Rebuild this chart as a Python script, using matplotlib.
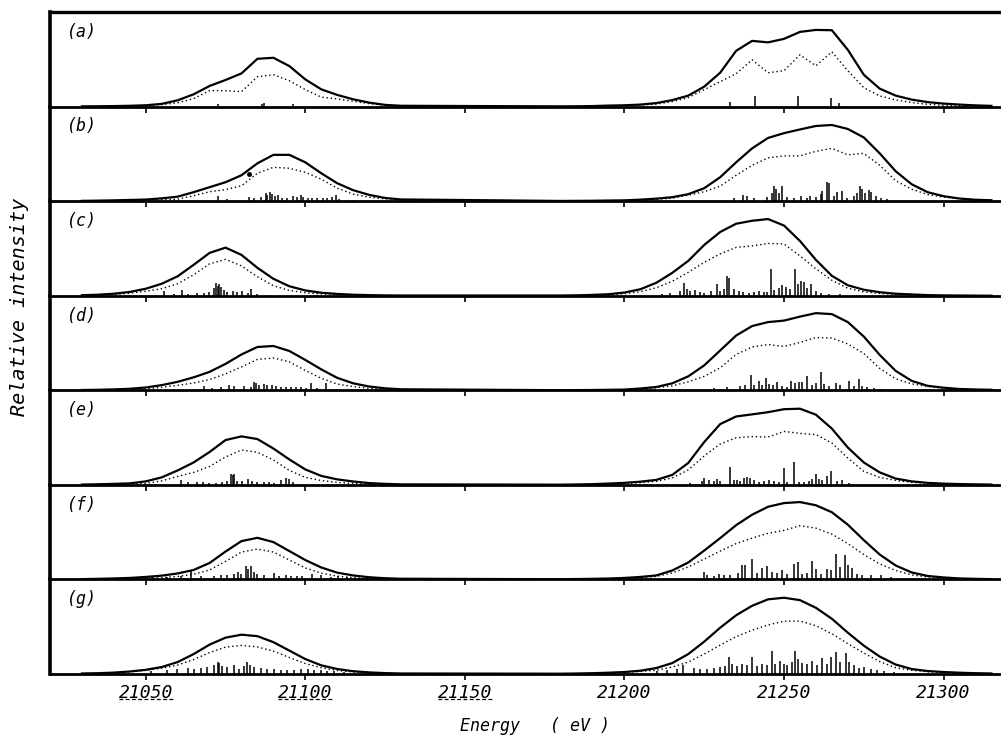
import matplotlib
matplotlib.use('Agg')
import matplotlib.pyplot as plt

plt.rcParams['font.family'] = ['DejaVu Sans Mono']
plt.rcParams['font.style'] = 'oblique'

# energy grid (eV) of the read-off envelope points: low band + high band
E_GRID = list(range(21030, 21131, 5)) + list(range(21180, 21316, 5))

# ---- panel (a)
SOLID_A = [0.2, 0.3, 0.5, 0.8, 1.3, 2.7, 6.3, 12.3, 20.7, 26.7, 33.3, 48, 49, 40.7, 27.3,
           17.3, 11.7, 7.3, 4, 1.7, 0.8,
           0.2, 0.3, 0.5, 1, 1.3, 2, 3.5, 6.5, 11, 20, 34, 56, 66, 64.5, 68, 75, 77, 76.7,
           57, 32, 18, 11, 7, 4.5, 3, 2, 1.2, 0.7]
DOTTED_A = [0.1, 0.2, 0.3, 0.5, 0.9, 2, 3.8, 8, 16, 16, 15, 30, 32, 26, 17,
            9.5, 7.7, 5.4, 3, 1.3, 0.5,
            0.1, 0.2, 0.4, 0.6, 1, 1.5, 2.5, 5, 9, 17, 25, 33, 47, 34, 36, 52, 41, 55,
            36, 19, 10.7, 6.7, 4, 2.3, 1.3, 0.8, 0.5, 0.3]
STICK_E_A = [21072.7, 21086.5, 21087.0, 21096.3, 21233.2, 21241.0, 21254.4, 21264.6,
             21267.2, 21269.3]
STICK_H_A = [3, 2.5, 4, 3, 4.3, 10.3, 10.3, 8.3, 3.7, 1]

# ---- panel (b)
SOLID_B = [0.3, 0.5, 0.8, 1.2, 1.6, 2.8, 4.5, 9, 14, 19, 26, 38, 46.5, 46.5, 39,
           28, 18, 11, 6.3, 3.2, 1.7,
           0.2, 0.3, 0.4, 0.6, 0.8, 1.5, 2.5, 4, 7, 13, 24, 39, 53, 63.5, 68.3, 72, 75.5, 76.5,
           72.5, 64, 48, 30, 17, 9, 5, 2.6, 1.4, 0.9]
DOTTED_B = [0.1, 0.2, 0.4, 0.7, 1, 1.4, 2, 5.5, 9.5, 11.5, 15.5, 28, 34, 33, 29,
            22, 13, 7, 4, 2.3, 1.3,
            0.1, 0.2, 0.3, 0.5, 0.6, 1, 1.8, 3, 6, 9.5, 15, 26, 36, 43.5, 45.5, 45.5, 50, 53,
            46.5, 48, 36, 20.5, 12, 6.7, 4, 2.5, 1.3, 0.8]
STICK_E_B = [21072.7, 21075.6, 21082.4, 21084.0, 21086.0, 21087.6, 21088.1, 21089.0,
             21089.7, 21090.4, 21091.3, 21092.8, 21094.4, 21096.0, 21097.5, 21098.6,
             21099.4, 21100.7, 21102.2, 21103.8, 21105.4, 21106.9, 21108.5, 21109.6,
             21110.6, 21115.3,
             21231.6, 21234.2, 21237.2, 21238.4, 21240.5, 21244.7, 21246.3, 21246.8,
             21247.6, 21248.4, 21249.4, 21251.0, 21253.1, 21255.2, 21257.3, 21258.3,
             21259.9, 21261.5, 21262.0, 21263.6, 21264.1, 21265.7, 21266.7, 21268.3,
             21269.8, 21271.9, 21273.0, 21273.8, 21274.6, 21275.3, 21276.6, 21277.4,
             21278.7, 21280.3, 21282.4]
STICK_H_B = [5, 2, 4, 3, 4, 8, 6, 9, 7, 5, 6, 3, 3, 5, 4, 6, 4, 3, 3, 3, 3, 3, 4, 6, 2, 1,
             1.5, 3, 6, 5, 3, 4, 8, 15, 12, 8, 15.7, 4, 3, 5, 3, 5, 4, 7, 10, 19, 18, 5, 9,
             10, 3, 5, 8, 15, 12, 8, 11, 9, 5, 3, 2]
STRAY_B = (21082.3, 27)

# ---- panel (c)
SOLID_C = [0.5, 1, 2, 3.8, 7, 12, 19.5, 31, 43, 48.3, 41, 28, 17, 9.5, 5.3,
           3, 1.8, 1, 0.6, 0.3, 0.2,
           0.2, 0.4, 0.8, 1.5, 3.2, 6.5, 13, 23, 35, 51, 64, 72.3, 75.3, 77, 70.5, 55, 36, 20,
           10.5, 6, 3.5, 2, 1.3, 0.6, 0.3, 0.2, 0.1, 0]
DOTTED_C = [0.3, 0.7, 1.3, 2.5, 4.5, 7, 12, 21, 32, 36.5, 30, 19, 10, 5.3, 3,
            1.8, 1.1, 0.7, 0.4, 0.2, 0.1,
            0.1, 0.2, 0.4, 0.8, 2, 4, 8, 14.5, 23.5, 33.5, 42, 48.5, 50, 52.5, 52, 40, 27, 15.5,
            7.5, 3.8, 2.3, 1.3, 0.8, 0.4, 0.2, 0.1, 0, 0]
STICK_E_C = [21055.7, 21058.9, 21061.5, 21063.1, 21066.2, 21068.3, 21069.9, 21071.4,
             21072.0, 21072.5, 21073.0, 21073.5, 21074.6, 21075.6, 21077.2, 21078.7,
             21080.3, 21081.9, 21083.1, 21085.0, 21088.1,
             21211.7, 21214.3, 21217.5, 21218.7, 21219.6, 21220.6, 21222.2, 21223.8,
             21225.0, 21227.1, 21229.0, 21230.1, 21231.1, 21232.1, 21232.8, 21234.2,
             21235.8, 21237.3, 21238.9, 21240.5, 21242.1, 21243.7, 21244.7, 21246.0,
             21246.8, 21248.4, 21249.4, 21250.5, 21252.0, 21253.6, 21254.5, 21255.2,
             21256.2, 21257.3, 21258.6, 21259.9, 21261.5, 21264.1, 21267.7]
STICK_H_C = [4.3, 2, 6, 2, 3, 3, 4, 8, 12.7, 10, 12, 9, 6, 4, 5, 4, 5, 3, 7, 2, 1,
             2, 3, 5, 12.7, 7, 5, 6, 4, 3, 5, 11.7, 5, 7, 20, 18, 7, 5, 4, 3, 4, 5, 4, 4,
             27, 6, 8, 11, 9, 7, 27, 12, 15, 14, 8, 12, 5, 3, 2, 2]

# ---- panel (d)
SOLID_D = [0.3, 0.5, 0.9, 1.5, 2.8, 5.2, 8.5, 13, 18.5, 26.5, 36, 43.5, 44.5, 39.5, 30.5,
           21, 12.5, 7, 3.8, 2, 1,
           0.1, 0.2, 0.3, 0.5, 0.7, 1.8, 3.3, 7, 14, 25, 40, 55, 64.5, 68.5, 70, 74, 77.5, 76.5,
           68.5, 54, 35.5, 19.5, 9.5, 4.5, 2.6, 1.3, 0.8, 0.5]
DOTTED_D = [0.1, 0.3, 0.5, 0.8, 1.6, 3, 5, 7.3, 10.8, 16.5, 23.5, 31, 32.5, 28.5, 20,
            12, 6.2, 3.8, 2, 1.2, 0.6,
            0.1, 0.1, 0.2, 0.4, 0.6, 1.3, 2.5, 4.5, 8.5, 14, 22.5, 36, 43.5, 46, 44, 48, 53, 52.5,
            46.5, 37, 22, 11.5, 6.5, 3.8, 2.2, 1.3, 0.8, 0.4]
STICK_E_D = [21068.3, 21070.9, 21073.5, 21076.1, 21077.7, 21080.8, 21082.9, 21084.0,
             21084.5, 21085.5, 21087.1, 21088.1, 21089.7, 21090.8, 21092.3, 21093.9,
             21095.5, 21097.0, 21098.6, 21100.2, 21101.9, 21103.8, 21106.6,
             21228.0, 21232.1, 21236.3, 21237.9, 21239.7, 21240.5, 21242.1, 21243.1,
             21244.4, 21245.2, 21246.6, 21247.9, 21249.4, 21251.0, 21252.3, 21253.6,
             21254.7, 21255.7, 21257.1, 21258.8, 21259.9, 21261.5, 21262.5, 21264.1,
             21266.2, 21267.7, 21270.4, 21271.9, 21273.5, 21274.6, 21276.1, 21278.2,
             21280.3]
STICK_H_D = [4, 2, 3, 5, 4, 4, 3, 8.3, 7, 5, 6, 5, 5, 4, 3, 3, 3, 3, 3, 2, 7.3, 2, 7,
             2, 3, 4, 5, 15, 5, 9, 5, 12.3, 6, 5, 8, 4, 3, 9, 7, 8, 8, 14.3, 5, 7, 18.3, 6,
             4, 7, 5, 9, 4, 11.7, 4, 3, 2, 1]

# ---- panel (e)
SOLID_E = [0.3, 0.6, 1, 1.5, 3.5, 7.5, 14.5, 22.5, 33, 45, 48.7, 46, 36.5, 25.5, 15.5,
           9, 5.5, 3.4, 1.8, 1, 0.5,
           0.2, 0.4, 0.7, 1.3, 2, 3.2, 5, 10, 22, 43, 61, 68.7, 70.8, 73, 76, 76.5, 70.5, 56.5,
           37.5, 22.5, 12.5, 6.3, 3.5, 2, 1.2, 0.8, 0.5, 0.3]
DOTTED_E = [0.1, 0.3, 0.5, 1, 1.5, 4, 8.5, 12.5, 18.5, 28, 35, 32.7, 25, 14.5, 7.5,
            4.3, 2.4, 1.5, 0.9, 0.5, 0.2,
            0.1, 0.2, 0.4, 0.8, 1.3, 2.2, 3.5, 7, 15, 29, 41, 47.3, 48.5, 48, 53.7, 51.7, 50.5, 42,
            27, 13.5, 7.5, 4.5, 2.5, 1.7, 1.2, 0.7, 0.4, 0.2]
STICK_E_E = [21061.0, 21063.1, 21066.2, 21067.8, 21069.9, 21072.0, 21074.0, 21075.6,
             21076.6, 21077.2, 21077.7, 21078.7, 21080.3, 21081.9, 21083.4, 21085.0,
             21087.1, 21088.7, 21090.2, 21092.3, 21093.9, 21095.0, 21096.0,
             21220.6, 21224.3, 21225.0, 21226.4, 21228.0, 21229.0, 21230.1, 21233.2,
             21234.2, 21235.3, 21236.3, 21237.4, 21238.4, 21239.5, 21240.5, 21242.1,
             21243.7, 21245.2, 21246.8, 21248.4, 21250.0, 21251.0, 21253.1, 21254.7,
             21256.2, 21257.8, 21258.8, 21259.9, 21260.9, 21262.0, 21263.6, 21264.6,
             21266.7, 21268.3, 21270.4]
STICK_H_E = [5.3, 3, 3, 3, 2, 2, 3, 4, 11, 10, 11, 4, 4, 6, 4, 3, 3, 3, 2, 5, 7, 6, 3,
             2, 4, 7, 5, 4, 6, 4, 17.7, 5, 5, 4, 7, 8, 7, 5, 3, 4, 5, 4, 3, 16.7, 3, 22.7,
             3, 3, 4, 6, 11, 6, 5, 9, 13.7, 4, 5, 2]

# ---- panel (f)
SOLID_F = [0.3, 0.6, 1, 1.5, 2.5, 3.8, 6, 9.5, 16.5, 28, 38.5, 41.8, 37.5, 28.5, 19.5,
           12, 6.8, 4, 2.2, 1.2, 0.7,
           0.2, 0.4, 0.6, 0.9, 1.5, 2.5, 4, 9, 17, 29, 41.5, 54.5, 65, 73, 76.7, 77.7, 74.5, 67.5,
           55, 39.5, 25, 14, 7, 3.5, 2, 1, 0.6, 0.3]
DOTTED_F = [0.1, 0.2, 0.4, 0.6, 1, 1.8, 3, 5.2, 9.5, 18, 27.5, 30.5, 27.5, 19.5, 11.5,
            6.3, 3.3, 1.8, 1, 0.5, 0.3,
            0.1, 0.2, 0.4, 0.7, 1.2, 2, 3, 6.5, 12.5, 20.5, 28.5, 36, 41.5, 46.3, 49.3, 54, 51.5,
            45.5, 36, 25, 15.5, 9, 4.5, 2.5, 1.5, 0.8, 0.5, 0.3]
STICK_E_F = [21052.1, 21056.8, 21061.0, 21064.1, 21067.2, 21071.4, 21073.5, 21075.6,
             21077.7, 21078.9, 21079.8, 21081.3, 21082.1, 21082.9, 21084.0, 21085.0,
             21087.1, 21090.2, 21091.8, 21093.9, 21095.5, 21097.5, 21099.1, 21102.2,
             21104.9, 21108.0, 21110.1, 21113.2,
             21224.8, 21225.9, 21228.0, 21229.5, 21231.1, 21233.2, 21235.5, 21236.9,
             21237.9, 21240.0, 21241.6, 21243.1, 21244.7, 21246.3, 21247.9, 21249.4,
             21251.0, 21253.1, 21254.5, 21255.7, 21257.3, 21258.8, 21259.9, 21261.5,
             21263.4, 21264.6, 21266.2, 21267.7, 21269.0, 21270.1, 21271.4, 21273.0,
             21274.6, 21277.2, 21280.3, 21283.5]
STICK_H_F = [2, 2, 3, 8.3, 3, 3, 4, 4, 5, 7, 5, 13.3, 10, 13, 7, 5, 4, 6, 3, 4, 3, 3, 3,
             5, 4, 2, 3, 2,
             7.7, 4, 3, 5, 4, 4, 6, 14.3, 14.3, 20.3, 6, 11, 13.3, 7, 6, 9, 5, 16, 17.7, 5,
             6, 18.3, 10, 5, 10, 9, 26, 12, 24.3, 14.3, 11, 5, 4, 4, 4, 2]

# ---- panel (g)
SOLID_G = [0.5, 0.8, 1.4, 2.5, 4.2, 7, 12, 20, 29.5, 36.5, 39.5, 38, 32, 23.5, 15,
           8.7, 5, 2.8, 1.6, 0.9, 0.5,
           0.3, 0.5, 0.8, 1.3, 2, 3.3, 6, 11, 20, 32.5, 46.5, 59, 68.5, 75, 76.6, 74.2, 66.5,
           55.5, 41.5, 28.5, 17.5, 9.5, 5, 3, 2, 1.3, 0.8, 0.5]
DOTTED_G = [0.4, 0.7, 1.2, 2.3, 3.7, 5.8, 9, 14.5, 21.5, 27, 28.7, 27.2, 23, 16.5, 10.5,
            6.3, 3.5, 2.1, 1.2, 0.7, 0.4,
            0.2, 0.3, 0.6, 1, 1.6, 2.5, 3.8, 7, 12, 20, 29, 37.5, 44, 49.3, 53, 53.2, 48.5,
            40.5, 30.5, 21, 12.5, 6.3, 3.7, 2.3, 1.5, 1, 0.6, 0.3]
STICK_E_G = [21051.6, 21056.8, 21059.9, 21063.1, 21065.2, 21067.2, 21069.3, 21071.4,
             21072.5, 21073.0, 21074.0, 21075.6, 21077.7, 21079.3, 21080.8, 21081.7,
             21082.7, 21084.0, 21086.0, 21088.1, 21090.2, 21092.3, 21094.4, 21096.5,
             21098.6, 21100.7, 21102.8, 21104.9, 21106.9, 21109.0, 21112.2,
             21210.2, 21213.3, 21216.4, 21218.5, 21221.7, 21223.8, 21225.9, 21228.0,
             21230.1, 21231.6, 21232.8, 21233.7, 21235.3, 21236.9, 21238.4, 21240.0,
             21241.6, 21243.1, 21244.7, 21246.3, 21247.3, 21248.9, 21249.9, 21251.0,
             21252.6, 21253.6, 21254.5, 21255.7, 21257.3, 21258.8, 21260.4, 21262.0,
             21263.6, 21264.6, 21266.2, 21267.7, 21269.3, 21270.4, 21271.9, 21273.5,
             21275.1, 21277.2, 21279.3, 21281.4, 21284.5]
STICK_H_G = [3, 4, 5, 6, 5, 6, 7.3, 9, 12.3, 11, 8, 7, 9, 5, 8, 11.7, 9, 7, 6, 5, 5, 4,
             4, 4, 5, 5, 4, 4, 3, 3, 2,
             3, 4, 5, 9, 6, 5, 5, 6, 7, 8, 16.7, 10, 8, 10, 9, 16.7, 8, 10, 9, 23.3, 10, 13,
             10, 9, 12, 23.3, 15, 11, 10, 13, 9, 16, 10, 17, 22.3, 12, 21.3, 12, 9, 6, 7, 5,
             4, 3, 2]

PANEL_LABELS = ['(a)', '(b)', '(c)', '(d)', '(e)', '(f)', '(g)']
X_TICKS = [21050, 21100, 21150, 21200, 21250, 21300]
UNDERLINED_TICKS = [21050, 21100, 21150]

panels = [
    (SOLID_A, DOTTED_A, STICK_E_A, STICK_H_A),
    (SOLID_B, DOTTED_B, STICK_E_B, STICK_H_B),
    (SOLID_C, DOTTED_C, STICK_E_C, STICK_H_C),
    (SOLID_D, DOTTED_D, STICK_E_D, STICK_H_D),
    (SOLID_E, DOTTED_E, STICK_E_E, STICK_H_E),
    (SOLID_F, DOTTED_F, STICK_E_F, STICK_H_F),
    (SOLID_G, DOTTED_G, STICK_E_G, STICK_H_G),
]

fig, axes = plt.subplots(7, 1, figsize=(10.01, 7.42), dpi=100, sharex=True)
plt.subplots_adjust(left=50 / 1001, right=1.0, top=1 - 12 / 742, bottom=1 - 674 / 742,
                    hspace=0)

for i, (ax, label, (solid, dotted, se, sh)) in enumerate(zip(axes, PANEL_LABELS, panels)):
    # transparent background so the ticks of the panel above stay visible
    ax.patch.set_visible(False)
    ax.set_zorder(10 - i)
    ax.vlines(se, 0, sh, color='black', lw=1.1)
    ax.plot(E_GRID, dotted, color='black', lw=1.0, linestyle=(0, (1, 2)))
    ax.plot(E_GRID, solid, color='black', lw=1.6, solid_joinstyle='round')
    ax.set_xlim(21020, 21318)
    ax.set_ylim(0, 95)
    ax.set_yticks([])
    ax.set_xticks(X_TICKS)
    ax.tick_params(axis='x', direction='out', length=4, width=1.2, pad=3, labelsize=13)
    ax.spines['right'].set_visible(False)
    ax.spines['left'].set_linewidth(2.6)
    ax.spines['bottom'].set_linewidth(2.0)
    if i == 0:
        ax.spines['top'].set_linewidth(2.4)
    else:
        ax.spines['top'].set_visible(False)
    ax.text(0.018, 0.79, label, transform=ax.transAxes, fontsize=12,
            ha='left', va='center')

axes[1].plot([STRAY_B[0]], [STRAY_B[1]], marker='o', ms=2.5, color='black')

# dashed underlines below some tick labels
for t in UNDERLINED_TICKS:
    axes[-1].plot([t - 8.5, t + 8.5], [-0.265, -0.265], transform=axes[-1].get_xaxis_transform(),
                  clip_on=False, color='black', lw=0.9, linestyle=(0, (3, 2)))

fig.text(20 / 1001, 1 - 307 / 742, 'Relative intensity', rotation=90,
         ha='center', va='center', fontsize=14.5)
fig.text(535 / 1001, 1 - 726 / 742, 'Energy   ( eV )', ha='center', va='center',
         fontsize=12)

fig.savefig('out.png', dpi=100)
